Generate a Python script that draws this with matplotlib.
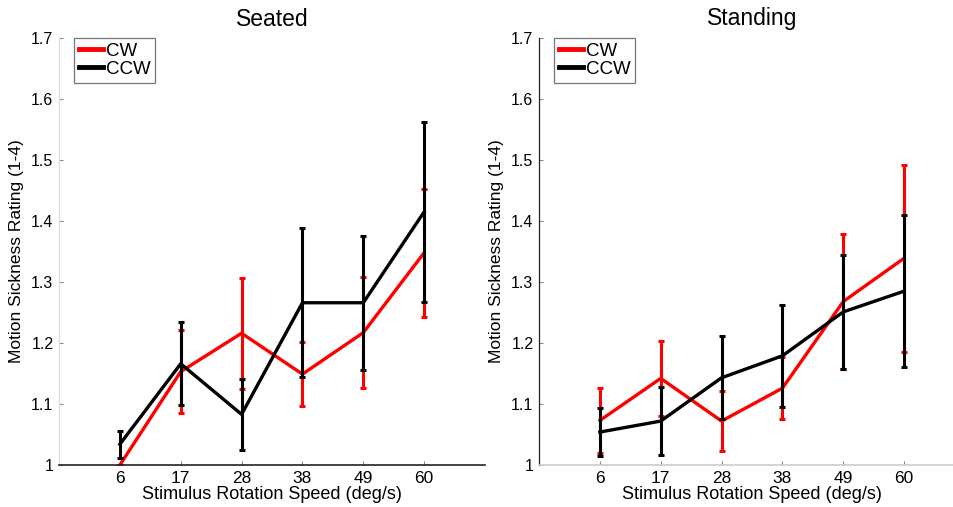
import matplotlib
matplotlib.use("Agg")
import matplotlib.pyplot as plt
import numpy as np
from matplotlib.lines import Line2D

# Données
speeds = ["6", "17", "28", "38", "49", "60"]

seated_cw = [1.000, 1.153, 1.216, 1.149, 1.217, 1.348]
seated_cw_err = [0.0, 0.068, 0.091, 0.052, 0.091, 0.105]
seated_ccw = [1.034, 1.166, 1.083, 1.266, 1.266, 1.415]
seated_ccw_err = [0.022, 0.068, 0.058, 0.122, 0.110, 0.148]

standing_cw = [1.073, 1.142, 1.072, 1.126, 1.268, 1.339]
standing_cw_err = [0.053, 0.062, 0.049, 0.051, 0.110, 0.153]
standing_ccw = [1.054, 1.072, 1.143, 1.179, 1.251, 1.285]
standing_ccw_err = [0.039, 0.056, 0.068, 0.084, 0.094, 0.125]

plt.rcParams['font.family'] = ['Liberation Sans', 'DejaVu Sans']

fig = plt.figure(figsize=(9.54, 5.07), dpi=100)
W, H = 954.0, 507.0

def make_axes(left_px, title, cw, cw_err, ccw, ccw_err, left_color, bottom_color):
    x0, x1 = left_px, left_px + 426
    y0, y1 = 465, 38
    ax = fig.add_axes([x0 / W, 1 - y0 / H, (x1 - x0) / W, (y0 - y1) / H])
    x = np.arange(1, len(speeds) + 1)
    ax.errorbar(x, cw, yerr=cw_err, color='#ff0000', lw=2.4, elinewidth=2.2,
                capsize=2.2, capthick=2.2, zorder=2)
    ax.errorbar(x, ccw, yerr=ccw_err, color='black', lw=2.4, elinewidth=2.2,
                capsize=2.2, capthick=2.2, zorder=3)
    ax.set_xlim(0, 7)
    ax.set_ylim(1, 1.7)
    ax.set_xticks(x)
    ax.set_xticklabels(speeds, fontsize=12.5)
    yt = [1, 1.1, 1.2, 1.3, 1.4, 1.5, 1.6, 1.7]
    ax.set_yticks(yt)
    ax.set_yticklabels(["1"] + [f"{v:.1f}" for v in yt[1:]], fontsize=11.5)
    ax.tick_params(direction='in', length=3, width=0.8, color='#888888', pad=4)
    ax.spines['top'].set_visible(False)
    ax.spines['right'].set_visible(False)
    ax.spines['left'].set_color(left_color)
    ax.spines['bottom'].set_color(bottom_color)
    ax.spines['left'].set_linewidth(0.9)
    ax.spines['bottom'].set_linewidth(1.2)
    ax.set_title(title, fontsize=16.5, pad=9)
    ax.set_xlabel("Stimulus Rotation Speed (deg/s)", fontsize=13, labelpad=0)
    ax.set_ylabel("Motion Sickness Rating (1-4)", fontsize=12.5, labelpad=5)
    handles = [Line2D([], [], color='#ff0000', lw=3.5),
               Line2D([], [], color='black', lw=3.5)]
    leg = ax.legend(handles, ['CW', 'CCW'], loc='upper left',
                    bbox_to_anchor=(15 / 426, 1.0), borderaxespad=0,
                    fontsize=13.5, handlelength=1.3, handletextpad=0.15,
                    borderpad=0.25, labelspacing=0.05,
                    fancybox=False, framealpha=1)
    leg.get_frame().set_edgecolor('#777777')
    leg.get_frame().set_linewidth(0.9)
    return ax

make_axes(59, "Seated", seated_cw, seated_cw_err, seated_ccw, seated_ccw_err,
          '#dddddd', '#222222')
make_axes(539, "Standing", standing_cw, standing_cw_err, standing_ccw, standing_ccw_err,
          '#222222', '#cccccc')

fig.savefig("out.png", dpi=100)
